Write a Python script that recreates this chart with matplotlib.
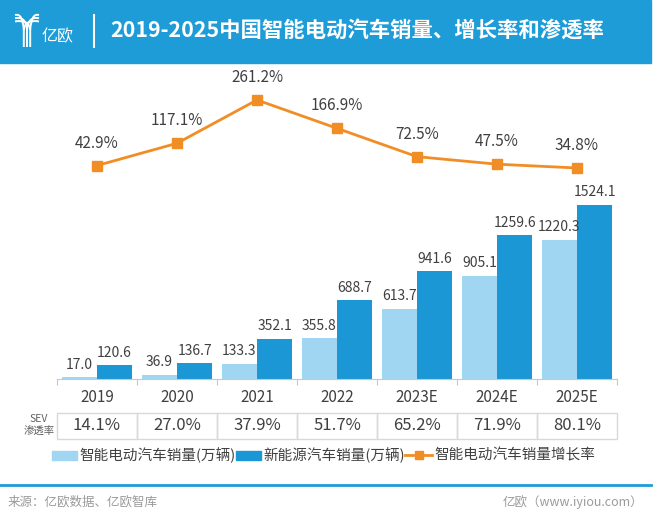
import matplotlib.pyplot as plt
import matplotlib.transforms as mtransforms
from matplotlib.patches import Rectangle, PathPatch
from matplotlib.path import Path

plt.rcParams['font.family'] = ['Noto Sans CJK SC', 'DejaVu Sans']
plt.rcParams['font.weight'] = 'light'

# datos
years = ['2019', '2020', '2021', '2022', '2023E', '2024E', '2025E']
sev_sales = [17.0, 36.9, 133.3, 355.8, 613.7, 905.1, 1220.3]
nev_sales = [120.6, 136.7, 352.1, 688.7, 941.6, 1259.6, 1524.1]
growth = [42.9, 117.1, 261.2, 166.9, 72.5, 47.5, 34.8]
penetration = ['14.1%', '27.0%', '37.9%', '51.7%', '65.2%', '71.9%', '80.1%']

title = '2019-2025中国智能电动汽车销量、增长率和渗透率'
leg_labels = ['智能电动汽车销量(万辆)', '新能源汽车销量(万辆)', '智能电动汽车销量增长率']

blue_head = '#1e9cd7'
dark_blue = '#1a97d4'
light_blue = '#a0d6f1'
orange = '#f18d25'
txt = '#404040'

W, H = 660, 527
fig = plt.figure(figsize=(W / 100, H / 100), dpi=100)

# capa de fondo en pixeles
bg = fig.add_axes([0, 0, 1, 1])
bg.set_xlim(0, W)
bg.set_ylim(H, 0)
bg.axis('off')

# cabecera
bg.add_patch(Rectangle((0, 0), 651, 63, color=blue_head, zorder=0))
# logo
for d in [-3.2, 0, 3.2]:
    verts = [(15, 15 + d + 3.2), (26 + d, 16 + d), (27 + d, 30), (27 + d, 47)]
    bg.add_patch(PathPatch(Path(verts, [Path.MOVETO, Path.CURVE3, Path.CURVE3, Path.LINETO]),
                           fill=False, ec='white', lw=1.4))
    verts = [(39, 15 - d + 3.2), (28 + d, 16 - d), (27 + d, 30)]
    bg.add_patch(PathPatch(Path(verts, [Path.MOVETO, Path.CURVE3, Path.CURVE3]),
                           fill=False, ec='white', lw=1.4))
bg.text(42, 37, '亿欧', color='white', fontsize=11.5, va='center', ha='left')
bg.plot([94, 94], [15, 47], color='white', lw=1.5)
bg.text(110, 31, title, color='white', fontsize=15.4, fontweight='bold', va='center', ha='left')

# pie de pagina
bg.plot([0, 651], [485, 485], color=blue_head, lw=2)
bg.text(8, 502, '来源：亿欧数据、亿欧智库', color='#9a9a9a', fontsize=9, va='center', ha='left')
bg.text(643, 502, '亿欧（www.iyiou.com）', color='#9a9a9a', fontsize=9, va='center', ha='right')

# grafico principal
x0, x1, yb, yt = 57, 617, 379, 70
ax = fig.add_axes([x0 / W, 1 - yb / H, (x1 - x0) / W, (yb - yt) / H])
ax.patch.set_alpha(0)
x = list(range(len(years)))
bw = 0.44
ax.bar([i - bw / 2 for i in x], sev_sales, width=bw, color=light_blue, zorder=2)
ax.bar([i + bw / 2 for i in x], nev_sales, width=bw, color=dark_blue, zorder=2)
ax.set_xlim(-0.5, len(years) - 0.5)
ax.set_ylim(0, 2706)
for i in x:
    ax.annotate(f'{sev_sales[i]:.1f}', (i - bw / 2, sev_sales[i]), xytext=(0, 4),
                textcoords='offset points', ha='center', va='bottom', fontsize=10, color=txt)
    ax.annotate(f'{nev_sales[i]:.1f}', (i + bw / 2, nev_sales[i]), xytext=(0, 4),
                textcoords='offset points', ha='center', va='bottom', fontsize=10, color=txt)

for s in ['top', 'left', 'right']:
    ax.spines[s].set_visible(False)
ax.spines['bottom'].set_color('#c8c8c8')
ax.set_yticks([])
ax.set_xticks([i - 0.5 for i in range(len(years) + 1)])
ax.set_xticklabels([])
ax.tick_params(axis='x', length=4, color='#c8c8c8', direction='out')

# linea de crecimiento
ax2 = ax.twinx()
ax2.plot(x, growth, color=orange, lw=2, marker='s', markersize=6.5, zorder=3)
ax2.set_ylim(-667.6, 361.0)
ax2.axis('off')
for i in x:
    ax2.annotate(f'{growth[i]:.1f}%', (i, growth[i]), xytext=(0, 10),
                 textcoords='offset points', ha='center', va='bottom', fontsize=11, color=txt)

# etiquetas de años y tabla de penetración
tr = mtransforms.blended_transform_factory(ax.transData, bg.transData)
for i in x:
    ax.text(i, 398, years[i], transform=tr, ha='center', va='center', fontsize=11,
            color=txt, clip_on=False)
    ax.add_patch(Rectangle((i - 0.5, 413), 1, 26, transform=tr, fill=False,
                           ec='#d9d9d9', lw=1, clip_on=False))
    ax.text(i, 426, penetration[i], transform=tr, ha='center', va='center', fontsize=12,
            color=txt, clip_on=False)
bg.text(39, 419, 'SEV', ha='center', va='center', fontsize=7.5, color='#606060')
bg.text(39, 432, '渗透率', ha='center', va='center', fontsize=7.5, color='#606060')

# leyenda
bg.add_patch(Rectangle((52, 451), 25, 9, color=light_blue))
bg.text(79, 455, leg_labels[0], ha='left', va='center', fontsize=10.5, color=txt)
bg.add_patch(Rectangle((236, 451), 25, 9, color=dark_blue))
bg.text(263, 455, leg_labels[1], ha='left', va='center', fontsize=10.5, color=txt)
bg.plot([405, 432], [455, 455], color=orange, lw=2)
bg.plot([418.5], [455], marker='s', markersize=6, color=orange)
bg.text(434, 455, leg_labels[2], ha='left', va='center', fontsize=10.5, color=txt)

plt.savefig('out.png', dpi=100)
